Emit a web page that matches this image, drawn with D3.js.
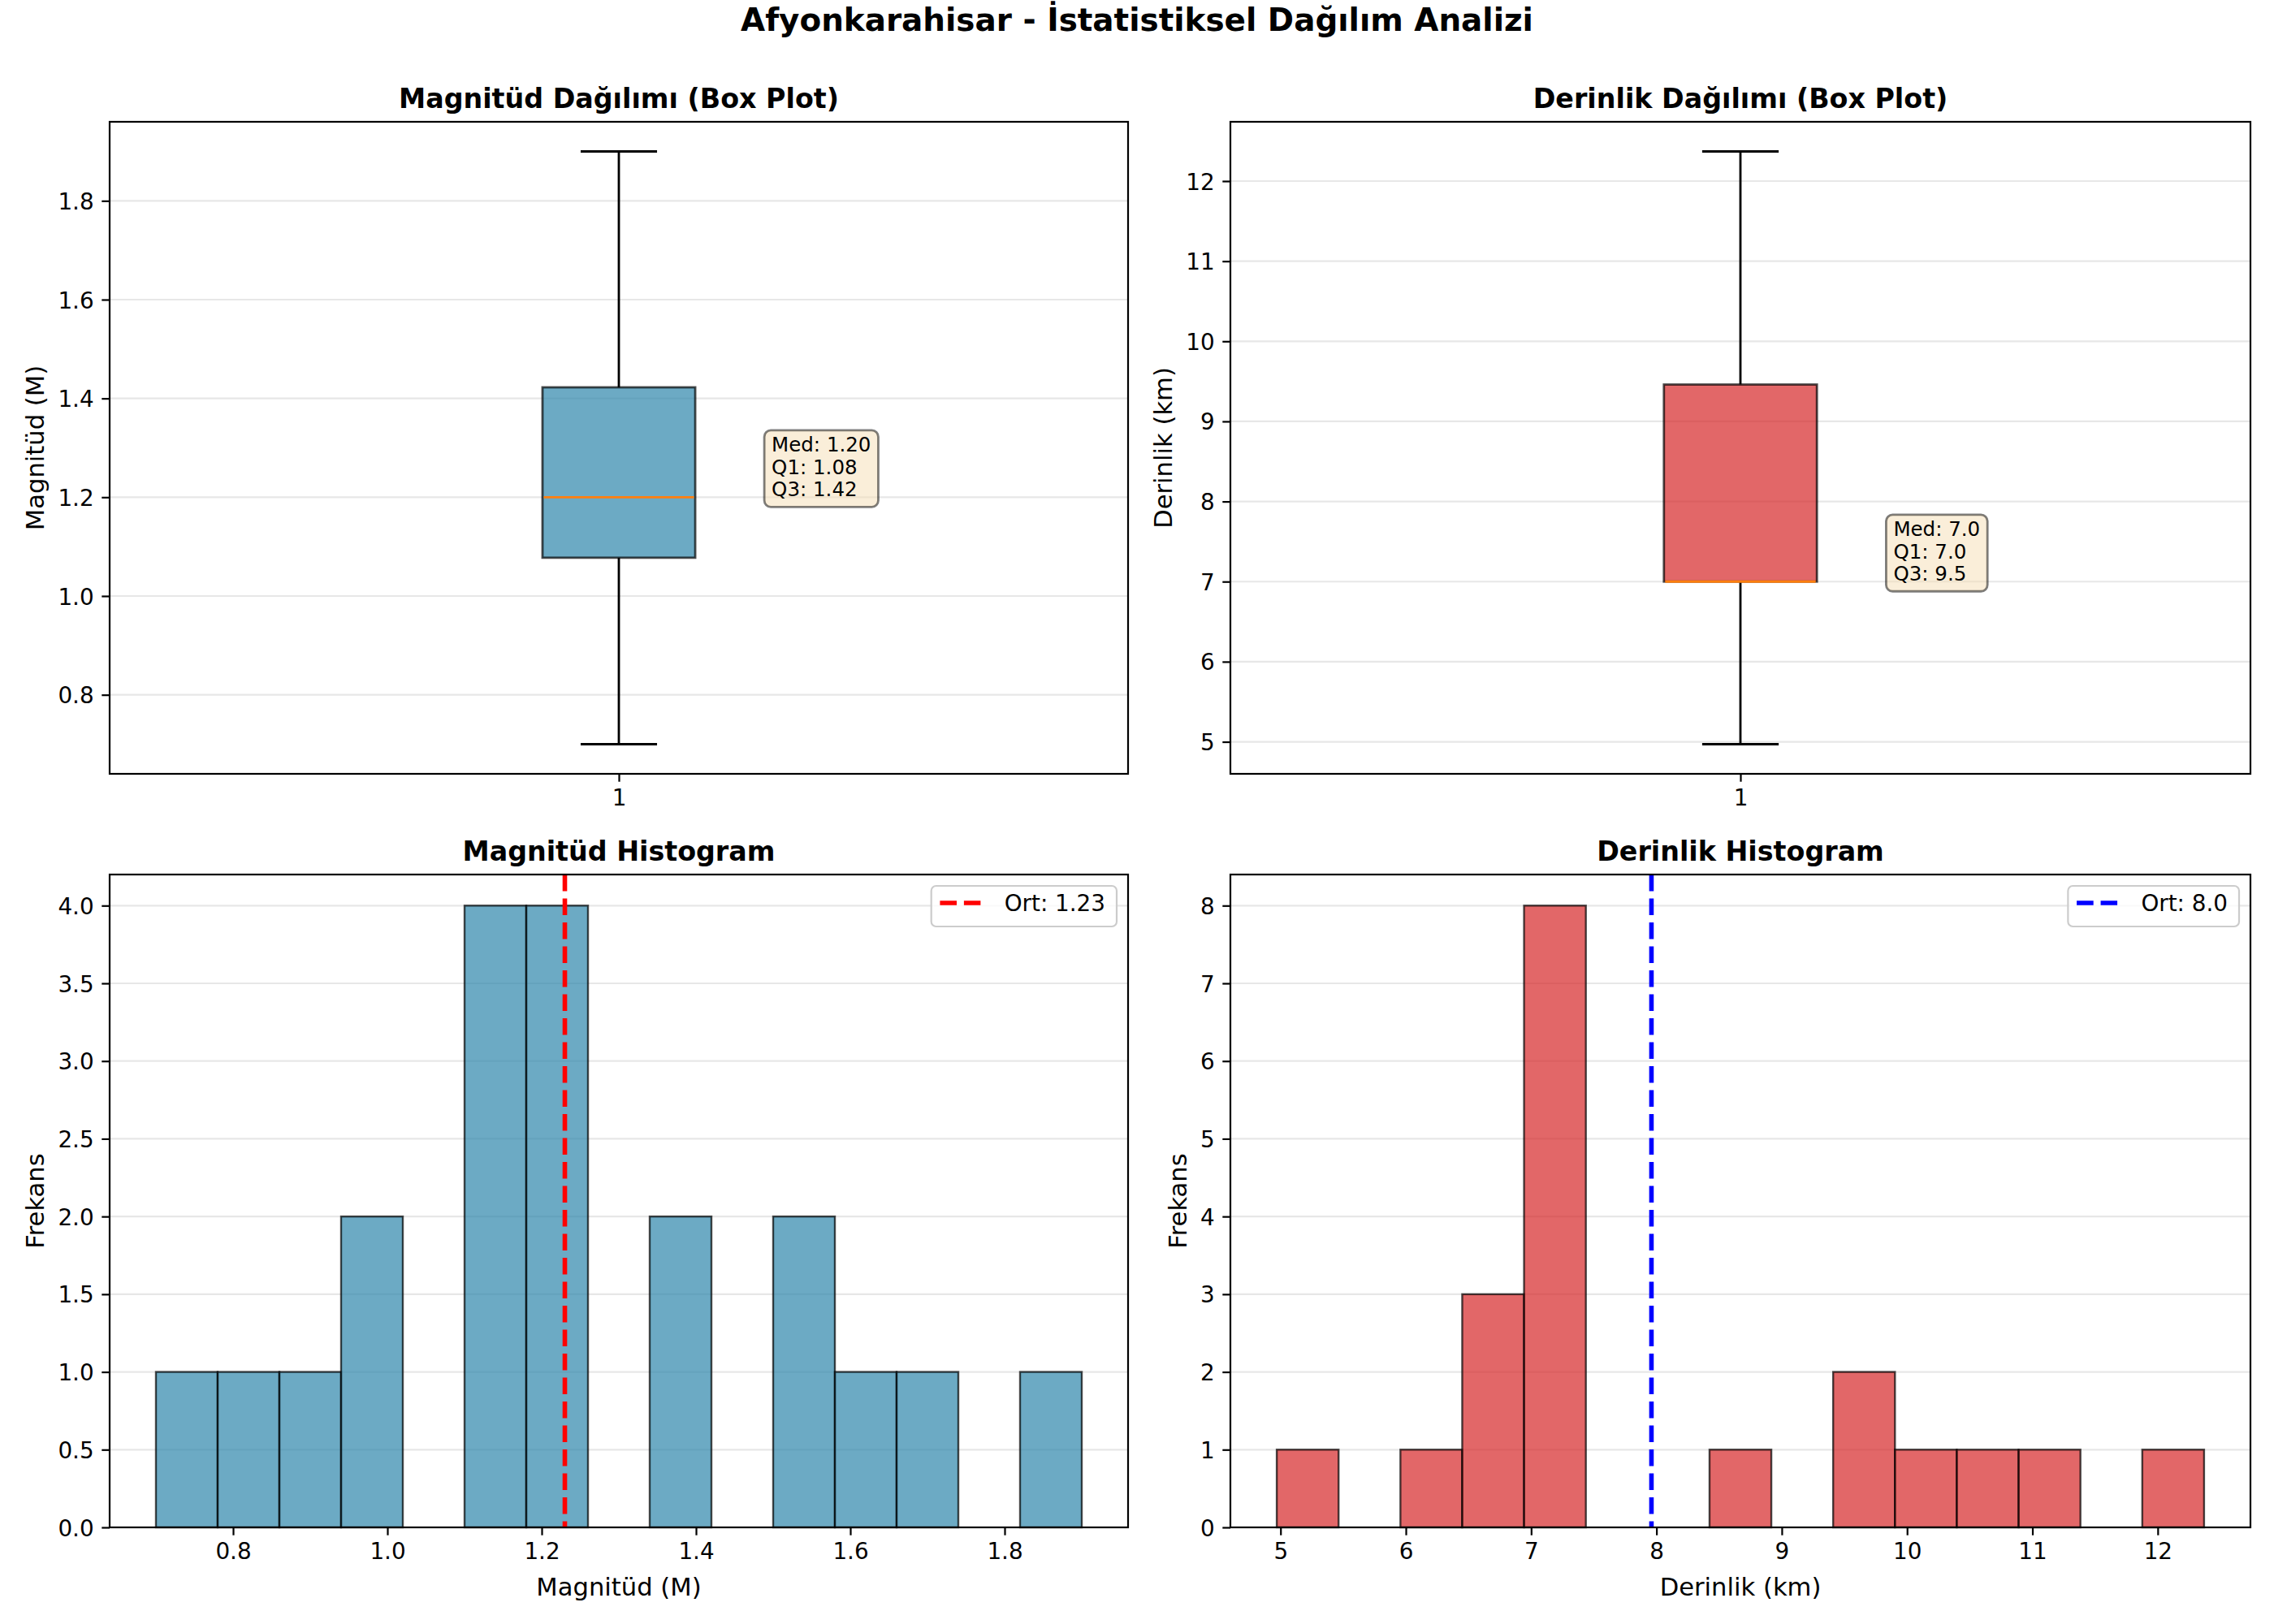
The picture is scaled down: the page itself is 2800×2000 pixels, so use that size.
<!DOCTYPE html>
<html>
<head>
<meta charset="utf-8">
<script src="https://d3js.org/d3.v7.min.js"></script>
<style>
  body { margin: 0; background: #fff; }
  svg text { font-family: "DejaVu Sans", sans-serif; }
</style>
</head>
<body>
<div id="chart"></div>
<script>
// ---- data ----
var mainTitle = "Afyonkarahisar - İstatistiksel Dağılım Analizi";
var panelTitles = ["Magnitüd Dağılımı (Box Plot)", "Derinlik Dağılımı (Box Plot)", "Magnitüd Histogram", "Derinlik Histogram"];

// box plot stats: [magnitude, depth]
var boxLow    = [0.70, 4.97];
var boxQ1     = [1.0775, 7.00];
var boxMedian = [1.20, 7.00];
var boxQ3     = [1.4225, 9.46];
var boxHigh   = [1.90, 12.37];
var boxDigits = [2, 1];
var boxLabels = ["Magnitüd (M)", "Derinlik (km)"];

// histograms (15 bins between min and max)
var magRange = [0.70, 1.90];
var magCounts = [1, 1, 1, 2, 0, 4, 4, 0, 2, 0, 2, 1, 1, 0, 1];
var depthRange = [4.97, 12.37];
var depthCounts = [1, 0, 1, 3, 8, 0, 0, 1, 0, 2, 1, 1, 1, 0, 1];
var histMeans = [1.23, 7.96];
var meanDigits = [2, 1];

// tick labels
var magTicks = [0.8, 1.0, 1.2, 1.4, 1.6, 1.8];
var depthTicks = [5, 6, 7, 8, 9, 10, 11, 12];
var magFreqTicks = [0, 0.5, 1.0, 1.5, 2.0, 2.5, 3.0, 3.5, 4.0];
var depthFreqTicks = [0, 1, 2, 3, 4, 5, 6, 7, 8];

// ---- layout ----
var W = 2800, H = 2000;
var colX = [[135, 1389], [1515, 2771]];
var rowY = [[150, 953], [1077, 1881]];
var tickFont = 27.8, labelFont = 30.6;
var boxColors = ["#2E86AB", "#d62728"];

var svg = d3.select("#chart").append("svg")
  .attr("width", W).attr("height", H)
  .attr("viewBox", "0 0 " + W + " " + H);

svg.append("text")
  .attr("x", W / 2).attr("y", 38)
  .attr("text-anchor", "middle")
  .attr("font-size", 38.9).attr("font-weight", "bold")
  .text(mainTitle);

function padded(lo, hi) {
  var m = (hi - lo) * 0.05;
  return [lo - m, hi + m];
}

// draws spines, ticks, grid, title; returns the panel group
function makePanel(col, row, title, x, y, xTicks, yTicks, xFmt, yFmt) {
  var x0 = colX[col][0], x1 = colX[col][1];
  var y0 = rowY[row][0], y1 = rowY[row][1];
  var g = svg.append("g");

  // y grid
  g.append("g").selectAll("line").data(yTicks).enter().append("line")
    .attr("x1", x0).attr("x2", x1)
    .attr("y1", function(d) { return y(d); })
    .attr("y2", function(d) { return y(d); })
    .attr("stroke", "#b0b0b0").attr("stroke-opacity", 0.3)
    .attr("stroke-width", 2.2);

  var plot = g.append("g");

  // axes
  var ax = g.append("g")
    .attr("transform", "translate(0," + y1 + ")")
    .call(d3.axisBottom(x).tickValues(xTicks).tickFormat(xFmt)
      .tickSize(9.7).tickPadding(9.7).tickSizeOuter(0));
  var ay = g.append("g")
    .attr("transform", "translate(" + x0 + ",0)")
    .call(d3.axisLeft(y).tickValues(yTicks).tickFormat(yFmt)
      .tickSize(9.7).tickPadding(9.7).tickSizeOuter(0));
  [ax, ay].forEach(function(a) {
    a.select(".domain").remove();
    a.selectAll("line").attr("stroke", "#000").attr("stroke-width", 2.2);
    a.selectAll("text").attr("font-size", tickFont).attr("fill", "#000")
      .style("font-family", "DejaVu Sans");
  });
  ay.selectAll("text").attr("dy", "0.36em");

  // spines
  g.append("rect")
    .attr("x", x0).attr("y", y0)
    .attr("width", x1 - x0).attr("height", y1 - y0)
    .attr("fill", "none").attr("stroke", "#000").attr("stroke-width", 2.2);

  g.append("text")
    .attr("x", (x0 + x1) / 2).attr("y", y0 - 17)
    .attr("text-anchor", "middle")
    .attr("font-size", 33.3).attr("font-weight", "bold")
    .text(title);

  var maxW = 0;
  ay.selectAll("text").each(function() { maxW = Math.max(maxW, this.getComputedTextLength()); });
  g.yLabelX = x0 - 9.7 - 9.7 - maxW - 17;

  g.plot = plot;
  g.box = { x0: x0, x1: x1, y0: y0, y1: y1 };
  return g;
}

function yLabel(g, text) {
  var cy = (g.box.y0 + g.box.y1) / 2;
  g.append("text")
    .attr("transform", "translate(" + g.yLabelX + "," + cy + ") rotate(-90)")
    .attr("text-anchor", "middle")
    .attr("font-size", labelFont)
    .text(text);
}

function drawBoxPlot(i) {
  var col = i;
  var x = d3.scaleLinear().domain([0.5, 1.5]).range(colX[col]);
  var y = d3.scaleLinear().domain(padded(boxLow[i], boxHigh[i])).range([rowY[0][1], rowY[0][0]]);
  var ticks = i === 0 ? magTicks : depthTicks;
  var g = makePanel(col, 0, panelTitles[i], x, y, [1], ticks, d3.format("d"),
    i === 0 ? d3.format(".1f") : d3.format("d"));
  var p = g.plot;
  var halfW = 0.075, capW = 0.0375;

  // whiskers
  [[boxLow[i], boxQ1[i]], [boxQ3[i], boxHigh[i]]].forEach(function(s) {
    p.append("line")
      .attr("x1", x(1)).attr("x2", x(1))
      .attr("y1", y(s[0])).attr("y2", y(s[1]))
      .attr("stroke", "#000").attr("stroke-width", 2.8);
  });
  [boxLow[i], boxHigh[i]].forEach(function(v) {
    p.append("line")
      .attr("x1", x(1 - capW)).attr("x2", x(1 + capW))
      .attr("y1", y(v)).attr("y2", y(v))
      .attr("stroke", "#000").attr("stroke-width", 2.8);
  });
  // box
  p.append("rect")
    .attr("x", x(1 - halfW)).attr("y", y(boxQ3[i]))
    .attr("width", x(1 + halfW) - x(1 - halfW))
    .attr("height", y(boxQ1[i]) - y(boxQ3[i]))
    .attr("fill", boxColors[i]).attr("fill-opacity", 0.7)
    .attr("stroke", "#000").attr("stroke-opacity", 0.7).attr("stroke-width", 2.8);
  p.append("line")
    .attr("x1", x(1 - halfW) + 1.5).attr("x2", x(1 + halfW) - 1.5)
    .attr("y1", y(boxMedian[i])).attr("y2", y(boxMedian[i]))
    .attr("stroke", "#ff7f0e").attr("stroke-width", 2.8);

  // stats note
  var dg = boxDigits[i];
  var lines = ["Med: " + boxMedian[i].toFixed(dg), "Q1: " + boxQ1[i].toFixed(dg), "Q3: " + boxQ3[i].toFixed(dg)];
  var tx = x(1.15), lastBase = y(boxMedian[i]) - 1, lh = 27.7;
  var note = p.append("g");
  var bg = note.append("rect");
  var t = note.append("text").attr("font-size", 24.5);
  lines.forEach(function(s, k) {
    t.append("tspan").attr("x", tx).attr("y", lastBase - (2 - k) * lh).text(s);
  });
  var tw = t.node().getBBox().width;
  bg.attr("x", tx - 9).attr("y", lastBase - 2 * lh - 26)
    .attr("width", tw + 18).attr("height", 2 * lh + 39)
    .attr("rx", 8).attr("ry", 8)
    .attr("fill", "#f5deb3").attr("fill-opacity", 0.5)
    .attr("stroke", "#000").attr("stroke-opacity", 0.5).attr("stroke-width", 2.8);

  yLabel(g, boxLabels[i]);
}

function drawHist(i) {
  var col = i;
  var range = i === 0 ? magRange : depthRange;
  var counts = i === 0 ? magCounts : depthCounts;
  var xTicks = i === 0 ? magTicks : depthTicks;
  var yTicks = i === 0 ? magFreqTicks : depthFreqTicks;
  var x = d3.scaleLinear().domain(padded(range[0], range[1])).range(colX[col]);
  var y = d3.scaleLinear().domain([0, d3.max(counts) * 1.05]).range([rowY[1][1], rowY[1][0]]);
  var g = makePanel(col, 1, panelTitles[2 + i], x, y, xTicks, yTicks,
    i === 0 ? d3.format(".1f") : d3.format("d"),
    i === 0 ? d3.format(".1f") : d3.format("d"));
  var p = g.plot;
  var bw = (range[1] - range[0]) / counts.length;
  var bins = counts.map(function(c, k) {
    return { c: c, lo: range[0] + k * bw, hi: range[0] + (k + 1) * bw };
  }).filter(function(b) { return b.c > 0; });

  p.selectAll("rect").data(bins).enter().append("rect")
    .attr("x", function(d) { return x(d.lo); })
    .attr("width", function(d) { return x(d.hi) - x(d.lo); })
    .attr("y", function(d) { return y(d.c); })
    .attr("height", function(d) { return y(0) - y(d.c); })
    .attr("fill", boxColors[i]).attr("fill-opacity", 0.7)
    .attr("stroke", "#000").attr("stroke-opacity", 0.7).attr("stroke-width", 2.4);

  var lineColor = i === 0 ? "red" : "blue";
  p.append("line")
    .attr("x1", x(histMeans[i])).attr("x2", x(histMeans[i]))
    .attr("y1", g.box.y0).attr("y2", g.box.y1)
    .attr("stroke", lineColor).attr("stroke-width", 5.6)
    .attr("stroke-dasharray", "20.6,8.9");

  // legend, upper right
  var lg = g.append("g");
  var lbox = lg.append("rect");
  var lt = lg.append("text").attr("font-size", tickFont)
    .text("Ort: " + histMeans[i].toFixed(meanDigits[i]));
  var tw = lt.node().getComputedTextLength();
  var lw = 90 + tw + 14, lx = g.box.x1 - 14 - lw, ly = g.box.y0 + 14;
  lbox.attr("x", lx).attr("y", ly).attr("width", lw).attr("height", 50)
    .attr("rx", 6).attr("ry", 6)
    .attr("fill", "#fff").attr("fill-opacity", 0.8)
    .attr("stroke", "#cccccc").attr("stroke-width", 2.2);
  lt.attr("x", lx + 90).attr("y", ly + 31);
  lg.append("line")
    .attr("x1", lx + 10.7).attr("x2", lx + 60.7)
    .attr("y1", ly + 21).attr("y2", ly + 21)
    .attr("stroke", lineColor).attr("stroke-width", 5.6)
    .attr("stroke-dasharray", "20.6,8.9");

  g.append("text")
    .attr("x", (g.box.x0 + g.box.x1) / 2).attr("y", 1965)
    .attr("text-anchor", "middle").attr("font-size", labelFont)
    .text(boxLabels[i]);
  yLabel(g, "Frekans");
}

drawBoxPlot(0);
drawBoxPlot(1);
drawHist(0);
drawHist(1);
</script>
</body>
</html>
